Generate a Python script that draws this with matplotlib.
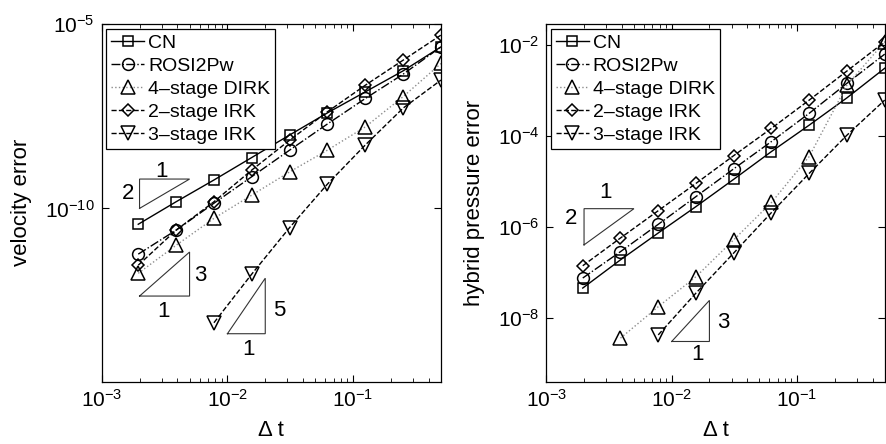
import numpy as np
import matplotlib
matplotlib.use("Agg")
import matplotlib.pyplot as plt
from matplotlib.ticker import LogLocator, NullLocator, NullFormatter

plt.rcParams['font.family'] = ['Liberation Sans', 'DejaVu Sans']
plt.rcParams['mathtext.fontset'] = 'custom'
plt.rcParams['mathtext.rm'] = 'Liberation Sans'
plt.rcParams['mathtext.it'] = 'Liberation Sans'

# ---------------- data ----------------
dt = np.array([1/512, 1/256, 1/128, 1/64, 1/32, 1/16, 1/8, 1/4, 1/2])

series_names = ["CN", "ROSI2Pw", "4\u2013stage DIRK", "2\u2013stage IRK", "3\u2013stage IRK"]

# velocity error (log10 values)
vel_cn = [-10.43, -9.82, -9.23, -8.62, -8.01, -7.41, -6.84, -6.27, -5.62]
vel_rosi = [-11.24, -10.59, -9.86, -9.14, -8.42, -7.71, -7.02, -6.36, -5.62]
vel_dirk = [-11.76, -11.00, -10.27, -9.64, -9.01, -8.42, -7.79, -6.97, -6.07]
vel_irk2 = [-11.54, -10.59, -9.82, -8.96, -8.15, -7.38, -6.66, -5.98, -5.30]
vel_irk3 = [np.nan, np.nan, -13.10, -11.78, -10.52, -9.34, -8.28, -7.28, -6.52]

# hybrid pressure error (log10 values)
pre_cn = [-7.34, -6.72, -6.13, -5.55, -4.95, -4.34, -3.76, -3.16, -2.51]
pre_rosi = [-7.12, -6.54, -5.94, -5.33, -4.72, -4.12, -3.50, -2.84, -2.20]
pre_dirk = [np.nan, -8.44, -7.75, -7.09, -6.28, -5.46, -4.45, -2.88, -1.93]
pre_irk2 = [-6.85, -6.24, -5.64, -5.04, -4.43, -3.83, -3.21, -2.57, -1.93]
pre_irk3 = [np.nan, np.nan, -8.37, -7.45, -6.57, -5.68, -4.82, -3.98, -3.21]

# slope triangles: (x_left, x_right, y_base, slope, corner) ; corner 'tl' or 'br'
vel_slopes = [(2e-3, 5e-3, 1e-10, 2, 'tl'), (2e-3, 5e-3, 4.2e-13, 3, 'br'), (1e-2, 2e-2, 4e-14, 5, 'br')]
vel_slope_labels = [(3.0e-3, 9.8e-10, "1"), (1.63e-3, 2.55e-10, "2"),
                    (6.1e-3, 1.55e-12, "3"), (3.1e-3, 1.57e-13, "1"),
                    (2.57e-2, 1.74e-13, "5"), (1.48e-2, 1.45e-14, "1")]
pre_slopes = [(2e-3, 5e-3, 4.06e-7, 2, 'tl'), (1e-2, 2e-2, 3.06e-9, 3, 'br')]
pre_slope_labels = [(2.96e-3, 5.7e-6, "1"), (1.59e-3, 1.57e-6, "2"),
                    (2.57e-2, 8.0e-9, "3"), (1.6e-2, 1.56e-9, "1")]

styles = [dict(ls='-', marker='s', ms=7.5, color='black'),
          dict(ls='-.', marker='o', ms=8.5, color='black'),
          dict(ls=':', marker='^', ms=9.5, color='#8c8c8c'),
          dict(ls='--', marker='D', ms=6.5, color='black'),
          dict(ls='--', marker='v', ms=9.5, color='black')]

W, H = 886, 444
fig = plt.figure(figsize=(W/100, H/100), dpi=100)
ax1 = fig.add_axes([101.7/W, (H-381.7)/H, 339.3/W, 357.7/H])
ax2 = fig.add_axes([546.3/W, (H-381.7)/H, 338.4/W, 357.7/H])


def draw(ax, data, slopes, slabels, ylim, yticks, ylabel, ylab_x):
    for vals, name, st in zip(data, series_names, styles):
        y = 10.0**np.array(vals, dtype=float)
        ax.plot(dt, y, linestyle=st['ls'], color=st['color'], lw=1.0,
                marker=st['marker'], ms=st['ms'], mfc='none', mec='black',
                mew=1.1, label=name)
    for x0, x1, y0, s, corner in slopes:
        y1 = y0 * (x1/x0)**s
        if corner == 'tl':
            xs = [x0, x0, x1, x0]
            ys = [y0, y1, y1, y0]
        else:
            xs = [x0, x1, x1, x0]
            ys = [y0, y0, y1, y0]
        ax.plot(xs, ys, color='#333333', lw=0.8, solid_joinstyle='miter')
    for x, y, t in slabels:
        ax.text(x, y, t, fontsize=16, ha='center', va='center')
    ax.set_xscale('log')
    ax.set_yscale('log')
    ax.set_xlim(1e-3, 0.5)
    ax.set_ylim(*ylim)
    ax.set_xticks([1e-3, 1e-2, 1e-1])
    ax.xaxis.set_minor_locator(LogLocator(base=10, subs=np.arange(2, 10)))
    ax.xaxis.set_minor_formatter(NullFormatter())
    ax.set_yticks(yticks)
    ax.yaxis.set_minor_locator(NullLocator())
    ax.tick_params(which='both', direction='in', top=True, right=True, labelsize=15)
    ax.tick_params(which='major', length=5, width=0.8, pad=5)
    ax.tick_params(which='minor', length=3, width=0.6)
    for sp in ax.spines.values():
        sp.set_linewidth(0.9)
    ax.set_xlabel("\u0394 t", fontsize=16)
    ax.xaxis.set_label_coords(0.5, -0.108)
    ax.set_ylabel(ylabel, fontsize=16)
    ax.yaxis.set_label_coords(ylab_x, 0.5)
    leg = ax.legend(loc='upper left', bbox_to_anchor=(4.5/339.3, 1-5.3/357.7),
                    borderaxespad=0, fontsize=14, fancybox=False, framealpha=1,
                    edgecolor='black', handlelength=1.7, handletextpad=0.2,
                    labelspacing=0.28, borderpad=0.25, numpoints=1)
    leg.get_frame().set_linewidth(0.9)


draw(ax1, [vel_cn, vel_rosi, vel_dirk, vel_irk2, vel_irk3], vel_slopes, vel_slope_labels,
     (2e-15, 1e-5), [1e-10, 1e-5], "velocity error", -0.205)
draw(ax2, [pre_cn, pre_rosi, pre_dirk, pre_irk2, pre_irk3], pre_slopes, pre_slope_labels,
     (4e-10, 2.9e-2), [1e-8, 1e-6, 1e-4, 1e-2], "hybrid pressure error", -0.182)

fig.savefig("out.png", dpi=100)
